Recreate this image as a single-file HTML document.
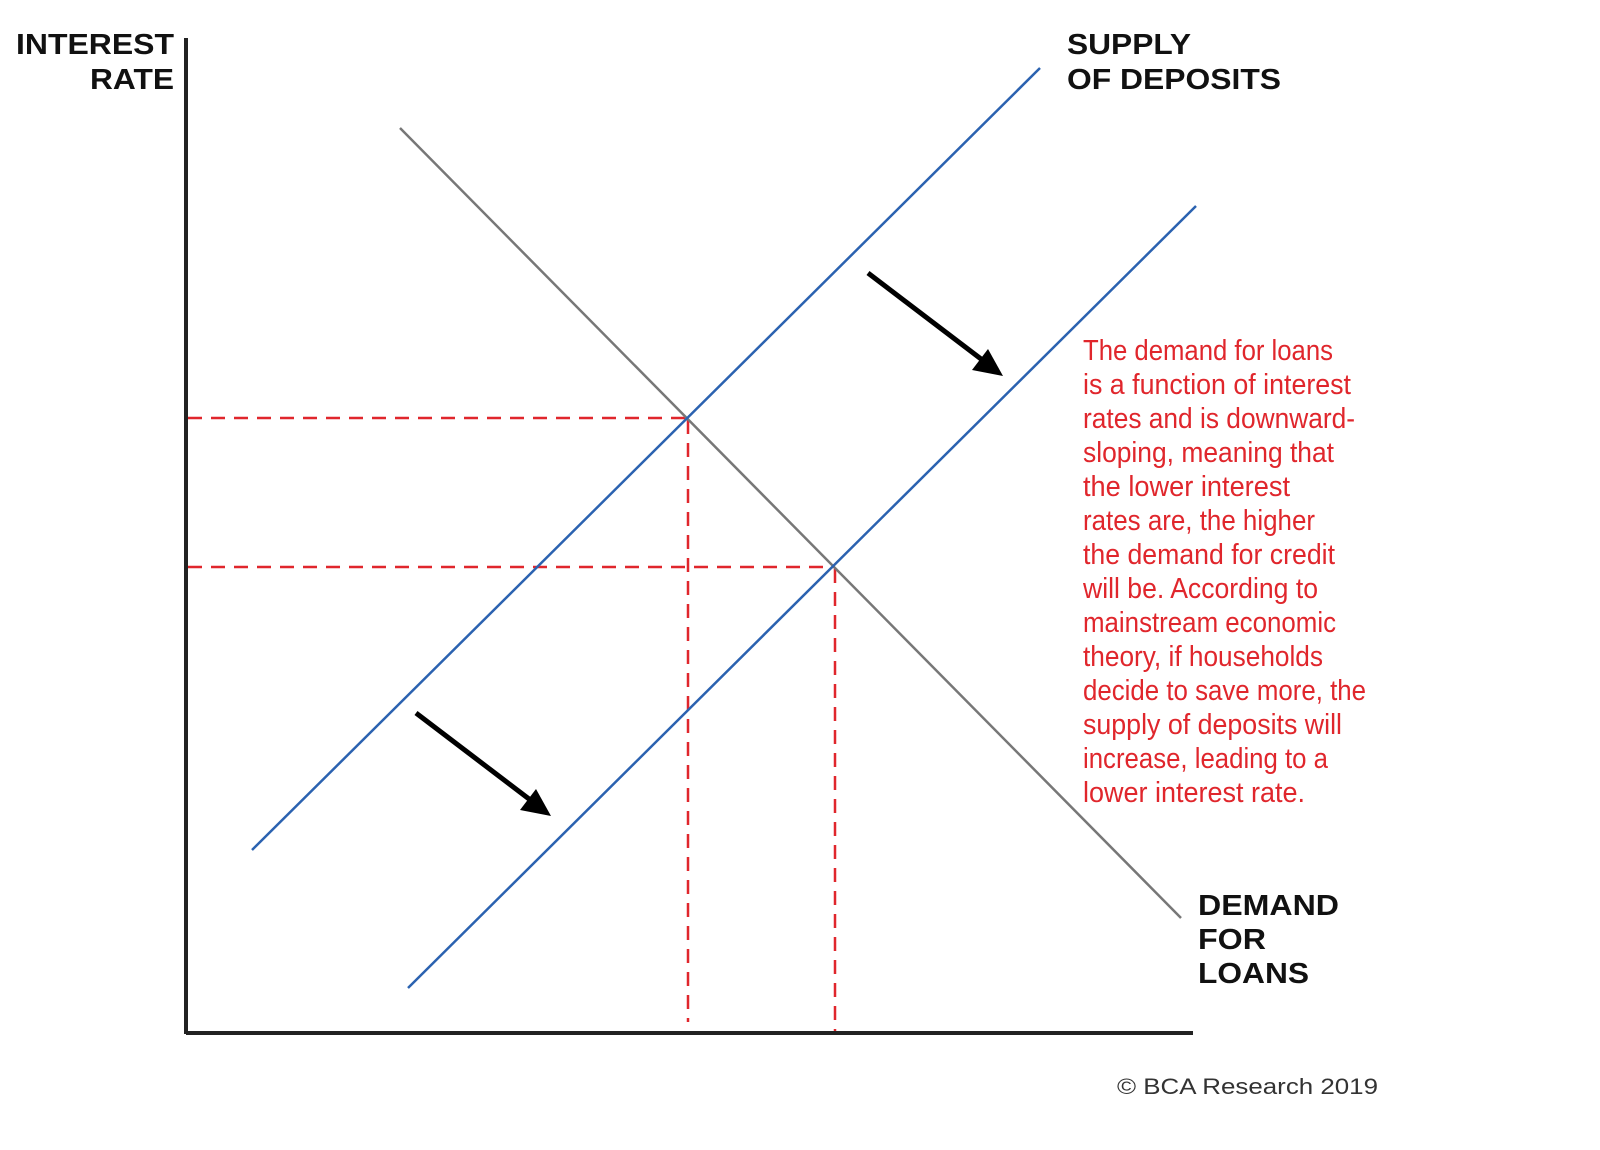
<!DOCTYPE html>
<html><head><meta charset="utf-8">
<style>
html,body{margin:0;padding:0;background:#fff;}
svg{display:block;}
.lab{font-family:"Liberation Sans",Arial,sans-serif;font-weight:bold;font-size:29px;fill:#111;}
.red{font-family:"Liberation Sans Narrow","Liberation Sans",sans-serif;font-size:29px;fill:#e0262c;}
</style></head>
<body>
<svg width="1600" height="1150" viewBox="0 0 1600 1150" xmlns="http://www.w3.org/2000/svg">
<!-- axes -->
<line x1="186" y1="38" x2="186" y2="1034" stroke="#222" stroke-width="4"/>
<line x1="186" y1="1033" x2="1193" y2="1033" stroke="#222" stroke-width="4"/>
<!-- red dashed -->
<g stroke="#e0262c" stroke-width="2.5" stroke-dasharray="14,9" fill="none">
<line x1="188" y1="418" x2="688" y2="418"/>
<line x1="188" y1="567" x2="835" y2="567"/>
<line x1="688" y1="420" x2="688" y2="1022"/>
<line x1="835" y1="569" x2="835" y2="1031"/>
</g>
<!-- demand -->
<line x1="400" y1="128" x2="1181" y2="918" stroke="#777" stroke-width="2.5"/>
<!-- supply -->
<line x1="252" y1="850" x2="1040" y2="68" stroke="#2b62b0" stroke-width="2.5"/>
<line x1="408" y1="988" x2="1196" y2="206" stroke="#2b62b0" stroke-width="2.5"/>
<!-- arrows -->
<line x1="868" y1="273" x2="985" y2="362" stroke="#000" stroke-width="5"/>
<polygon points="1003,376 972,370 988,349" fill="#000"/>
<line x1="416" y1="713" x2="533" y2="802" stroke="#000" stroke-width="5"/>
<polygon points="551,816 520,810 536,789" fill="#000"/>
<!-- labels -->
<text class="lab" x="16" y="54" textLength="158" lengthAdjust="spacingAndGlyphs">INTEREST</text>
<text class="lab" x="90" y="89" textLength="84" lengthAdjust="spacingAndGlyphs">RATE</text>
<text class="lab" x="1067" y="54" textLength="124" lengthAdjust="spacingAndGlyphs">SUPPLY</text>
<text class="lab" x="1067" y="89" textLength="214" lengthAdjust="spacingAndGlyphs">OF DEPOSITS</text>
<text class="lab" x="1198" y="915" textLength="141" lengthAdjust="spacingAndGlyphs">DEMAND</text>
<text class="lab" x="1198" y="949" textLength="68" lengthAdjust="spacingAndGlyphs">FOR</text>
<text class="lab" x="1198" y="983" textLength="111" lengthAdjust="spacingAndGlyphs">LOANS</text>
<text x="1117" y="1094" font-family="Liberation Sans,Arial,sans-serif" font-size="22" fill="#333" textLength="261" lengthAdjust="spacingAndGlyphs">© BCA Research 2019</text>
<!-- red text -->
<g class="red">
<text x="1083" y="360" textLength="250" lengthAdjust="spacingAndGlyphs">The demand for loans</text>
<text x="1083" y="394" textLength="268" lengthAdjust="spacingAndGlyphs">is a function of interest</text>
<text x="1083" y="428" textLength="272" lengthAdjust="spacingAndGlyphs">rates and is downward-</text>
<text x="1083" y="462" textLength="251" lengthAdjust="spacingAndGlyphs">sloping, meaning that</text>
<text x="1083" y="496" textLength="207" lengthAdjust="spacingAndGlyphs">the lower interest</text>
<text x="1083" y="530" textLength="232" lengthAdjust="spacingAndGlyphs">rates are, the higher</text>
<text x="1083" y="564" textLength="252" lengthAdjust="spacingAndGlyphs">the demand for credit</text>
<text x="1083" y="598" textLength="235" lengthAdjust="spacingAndGlyphs">will be. According to</text>
<text x="1083" y="632" textLength="253" lengthAdjust="spacingAndGlyphs">mainstream economic</text>
<text x="1083" y="666" textLength="240" lengthAdjust="spacingAndGlyphs">theory, if households</text>
<text x="1083" y="700" textLength="283" lengthAdjust="spacingAndGlyphs">decide to save more, the</text>
<text x="1083" y="734" textLength="259" lengthAdjust="spacingAndGlyphs">supply of deposits will</text>
<text x="1083" y="768" textLength="245" lengthAdjust="spacingAndGlyphs">increase, leading to a</text>
<text x="1083" y="802" textLength="222" lengthAdjust="spacingAndGlyphs">lower interest rate.</text>
</g>
</svg>
</body></html>
